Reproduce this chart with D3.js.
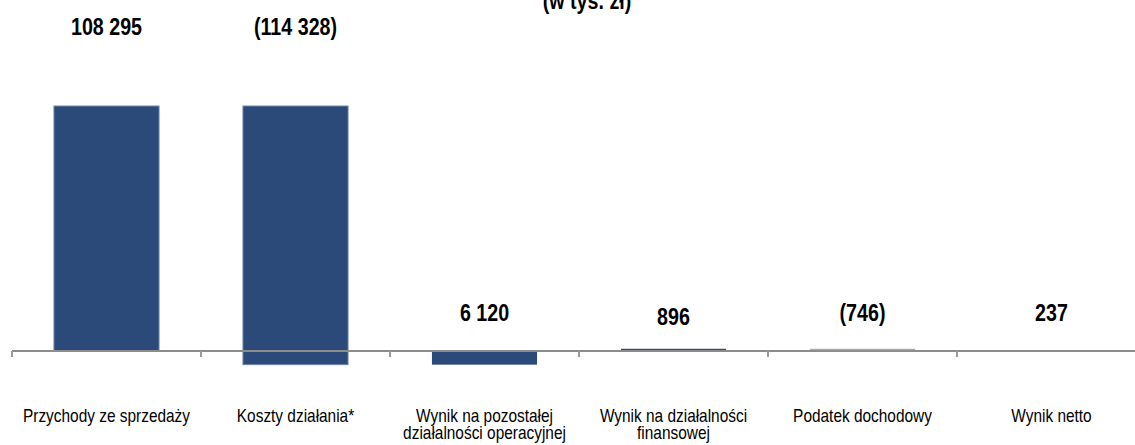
<!DOCTYPE html>
<html>
<head>
<meta charset="utf-8">
<script src="https://cdn.jsdelivr.net/npm/d3@7"></script>
<style>
  body { margin: 0; background: #fff; }
  svg { display: block; font-family: "Liberation Sans", Arial, sans-serif; }
  .val { font-weight: bold; font-size: 24px; fill: #000; }
  .cat { font-size: 18.8px; fill: #000; }
</style>
</head>
<body>
<svg id="chart"></svg>
<script>
// categories and values (w tys. zł)
var categories = ["Przychody ze sprzedaży", "Koszty działania*", "Wynik na pozostałej działalności operacyjnej",
                  "Wynik na działalności finansowej", "Podatek dochodowy", "Wynik netto"];
var values = [108295, -114328, 6120, 896, -746, 237];
var valueLabels = ["108 295", "(114 328)", "6 120", "896", "(746)", "237"];
var isTotal = [true, false, false, false, false, true];

var width = 1135, height = 445;
var axisY = 351;
var narrow = 0.82; // no narrow font installed, squeeze the text instead

// running totals for the waterfall
var running = 0;
var bars = categories.map(function(c, i) {
  var start, end;
  if (isTotal[i]) { start = 0; end = values[i]; running = values[i]; }
  else { start = running; end = running + values[i]; running = end; }
  return { cat: c, start: start, end: end, value: values[i], label: valueLabels[i], i: i };
});

var svg = d3.select("#chart").attr("width", width).attr("height", height);

var x = d3.scaleBand()
  .domain(categories)
  .range([12, 12 + 6 * 189])
  .paddingInner(0.444)
  .paddingOuter(0.222);

var y = d3.scaleLinear()
  .domain([0, d3.max(bars, function(d) { return Math.max(d.start, d.end); })])
  .range([axisY, 106]);

function squeezed(sel, cx, cy) {
  return sel.append("g")
    .attr("transform", "translate(" + cx + "," + cy + ") scale(" + narrow + ",1)")
    .append("text")
    .attr("text-anchor", "middle");
}

// title (cut at the top)
squeezed(svg, 587, 9).attr("class", "val").text("(w tys. zł)");

// bars
svg.selectAll(".bar")
  .data(bars)
  .enter().append("rect")
  .attr("class", "bar")
  .attr("x", function(d) { return x(d.cat); })
  .attr("width", x.bandwidth())
  .attr("y", function(d) { return y(Math.max(d.start, d.end)); })
  .attr("height", function(d) { return Math.max(0.5, Math.abs(y(d.start) - y(d.end))); })
  .attr("fill", function(d) { return d.i == 4 ? "#a3aab9" : "#2b4a79"; })
  .attr("stroke", function(d) { return Math.abs(y(d.start) - y(d.end)) > 50 ? "#6f87ab" : "none"; })
  .attr("stroke-width", 1);

// axis line + ticks at the band borders
var step = x.step();
svg.append("line")
  .attr("x1", 12).attr("x2", width)
  .attr("y1", axisY).attr("y2", axisY)
  .attr("stroke", "#8c8c8c")
  .attr("stroke-width", 2);

svg.selectAll(".tick")
  .data(categories)
  .enter().append("line")
  .attr("class", "tick")
  .attr("x1", function(c) { return x(c) - (step - x.bandwidth()) / 2; })
  .attr("x2", function(c) { return x(c) - (step - x.bandwidth()) / 2; })
  .attr("y1", axisY).attr("y2", axisY + 6)
  .attr("stroke", "#9a9a9a")
  .attr("stroke-width", 2);

// value labels: big bars get the top row, small ones sit just over the axis
bars.forEach(function(d) {
  var top = y(Math.max(d.start, d.end));
  var ly = top < 200 ? 35 : (d.i == 3 ? 325 : 321);
  squeezed(svg, x(d.cat) + x.bandwidth() / 2, ly).attr("class", "val").text(d.label);
});

// category labels
categories.forEach(function(c) {
  squeezed(svg, x(c) + x.bandwidth() / 2, 422)
    .attr("class", "cat")
    .text(c)
    .call(wrap, 178 / narrow);
});

function wrap(text, maxWidth) {
  text.each(function() {
    var text = d3.select(this),
        words = text.text().split(/\s+/).reverse(),
        word,
        line = [],
        tspan = text.text(null).append("tspan").attr("x", 0).attr("dy", 0);
    while (word = words.pop()) {
      line.push(word);
      tspan.text(line.join(" "));
      if (tspan.node().getComputedTextLength() > maxWidth && line.length > 1) {
        line.pop();
        tspan.text(line.join(" "));
        line = [word];
        tspan = text.append("tspan").attr("x", 0).attr("dy", 17).text(word);
      }
    }
  });
}
</script>
</body>
</html>
